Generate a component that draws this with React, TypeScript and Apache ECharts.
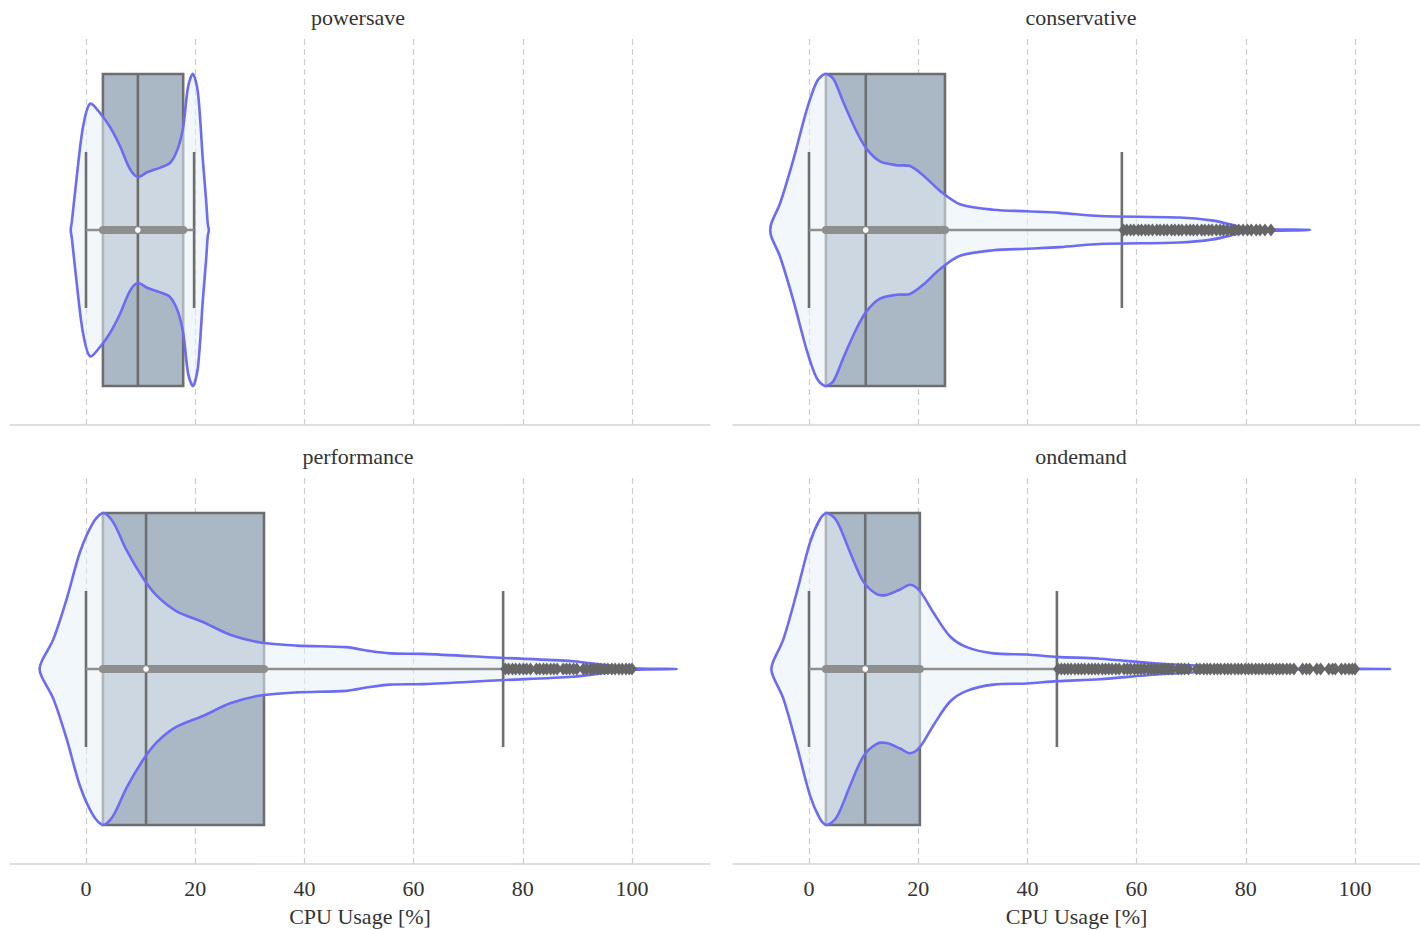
import React, { useEffect, useRef } from "react";
import * as echarts from "echarts";

const panelNames = ["powersave", "conservative", "performance", "ondemand"];
const xTicks = [0, 20, 40, 60, 80, 100];
const axisName = "CPU Usage [%]";

const boxQ1 = [3.1, 3.1, 3.1, 3.1];
const boxMedian = [9.5, 10.4, 11.0, 10.3];
const boxQ3 = [17.8, 24.9, 32.6, 20.3];
const whiskerLow = [0, 0, 0, 0];
const whiskerHigh = [19.8, 57.3, 76.4, 45.4];

// violin outlines: x positions and relative half-widths (1 = full half width)
const powersaveViolinX = [-2.8, -2.6, -1.7, -0.55, 0.73, 2.56, 4.4, 6.2, 8.06, 9.5, 11.2, 13.6, 15.4, 16.8, 17.8, 18.7, 19.6, 20.5, 21.4, 22.0, 22.3, 22.5];
const powersaveViolinW = [0, 0.05, 0.34, 0.66, 0.81, 0.75, 0.66, 0.54, 0.39, 0.34, 0.37, 0.4, 0.43, 0.52, 0.66, 0.92, 1.0, 0.88, 0.45, 0.19, 0.04, 0];

const conservativeViolinX = [-7.1, -6.83, -5.31, -2.88, -0.42, 1.41, 2.93, 4.45, 6.28, 8.73, 10.56, 13.0, 16.06, 18.5, 20.94, 24.0, 27.66, 33.76, 39.87, 45.97, 53.3, 67.9, 74.0, 77.1, 80.2, 84.4, 91.8];
const conservativeViolinW = [0, 0.05, 0.17, 0.45, 0.77, 0.95, 1.0, 0.97, 0.82, 0.63, 0.52, 0.44, 0.415, 0.41, 0.35, 0.25, 0.165, 0.13, 0.12, 0.11, 0.09, 0.08, 0.06, 0.036, 0.012, 0.005, 0];

const performanceViolinX = [-8.5, -8.11, -5.99, -3.53, -1.1, 1.34, 3.17, 5.0, 7.45, 10.5, 12.95, 16.6, 21.5, 26.4, 31.9, 38.6, 47.7, 52.0, 55.7, 61.8, 75.8, 89.2, 95.4, 100.2, 108.2];
const performanceViolinW = [0, 0.05, 0.19, 0.45, 0.75, 0.94, 1.0, 0.94, 0.76, 0.58, 0.47, 0.37, 0.3, 0.22, 0.17, 0.15, 0.14, 0.115, 0.1, 0.097, 0.072, 0.05, 0.023, 0.004, 0];

const ondemandViolinX = [-6.9, -6.54, -4.7, -2.25, 0.18, 2.0, 3.24, 5.07, 7.5, 9.95, 12.4, 14.2, 16.7, 18.5, 20.3, 22.8, 25.8, 28.9, 33.8, 39.9, 45.4, 53.3, 63.7, 75.8, 85.0, 106.4];
const ondemandViolinW = [0, 0.05, 0.19, 0.49, 0.81, 0.96, 1.0, 0.95, 0.75, 0.56, 0.48, 0.475, 0.51, 0.54, 0.5, 0.36, 0.21, 0.14, 0.1, 0.093, 0.078, 0.066, 0.035, 0.014, 0.003, 0];

const powersaveOutliers: number[] = [];
const conservativeOutliers = [57.6, 58.2, 58.9, 59.5, 60.3, 60.9, 61.6, 62.2, 62.9, 63.7, 64.3, 65.0, 65.6, 66.4, 67.0, 67.7, 68.3, 69.1, 69.8, 70.4, 71.1, 71.9, 72.5, 73.2, 73.8, 74.6, 75.3, 75.9, 76.6, 77.4, 78.0, 78.7, 79.5, 80.3, 81.0, 81.9, 82.6, 83.5, 84.6];
const performanceOutliers = [76.8, 77.4, 78.1, 78.7, 79.4, 80.1, 80.7, 81.4, 82.5, 83.1, 83.8, 84.4, 85.1, 85.7, 86.3, 87.4, 88.0, 88.6, 89.3, 89.9, 91.1, 91.7, 92.4, 93.0, 93.7, 94.3, 95.0, 95.6, 96.3, 96.9, 97.6, 98.2, 98.9, 99.5, 100.0];
const ondemandOutliers = [45.6, 46.2, 46.8, 47.4, 48.0, 48.7, 49.3, 49.9, 50.5, 51.2, 51.8, 52.4, 53.0, 53.7, 54.3, 54.9, 55.5, 56.2, 56.8, 57.7, 58.3, 58.9, 59.6, 60.2, 60.8, 61.4, 62.1, 62.7, 63.3, 63.9, 64.6, 65.2, 65.8, 66.5, 67.6, 68.2, 68.8, 69.5, 71.0, 71.6, 72.3, 72.9, 73.5, 74.2, 74.8, 75.4, 76.1, 76.7, 77.3, 78.0, 78.6, 79.2, 79.9, 80.5, 81.1, 81.8, 82.4, 83.0, 83.7, 84.3, 84.9, 85.6, 86.2, 86.8, 87.5, 88.1, 88.8, 90.4, 91.1, 91.7, 93.0, 93.7, 95.2, 95.9, 96.4, 97.5, 98.2, 98.9, 99.5, 100.0];

const violinXs = [powersaveViolinX, conservativeViolinX, performanceViolinX, ondemandViolinX];
const violinWs = [powersaveViolinW, conservativeViolinW, performanceViolinW, ondemandViolinW];
const outliers = [powersaveOutliers, conservativeOutliers, performanceOutliers, ondemandOutliers];

// axis extents (left panels show the whole range, right panels are cut by the page edge)
const xMin = -13.92;
const xMaxLeft = 114.29;
const xMaxRight = 111.9;

const BOX_FILL = "#aab8c6";
const EDGE = "#6e6e6e";
const VIOLIN_FILL = "rgba(232,240,248,0.55)";
const VIOLIN_LINE = "#6b6bf3";
const INNER = "#8e8e8e";
const OUTLIER = "#666666";
const FONT = "'Liberation Serif', serif";
const HALF = 0.4;

function buildOption() {
  const grids: any[] = [];
  const xAxes: any[] = [];
  const yAxes: any[] = [];
  const series: any[] = [];
  const titles: any[] = [];
  for (let i = 0; i < 4; i++) {
    const col = i % 2;
    const row = Math.floor(i / 2);
    const left = 10 + col * 723;
    const top = 35 + row * 439;
    const width = col === 0 ? 700 : 687;
    grids.push({ left, top, width, height: 390, containLabel: false });
    titles.push({
      text: panelNames[i],
      left: left + 343,
      top: top - 34,
      textAlign: "center",
      textStyle: { fontFamily: FONT, fontSize: 22, fontWeight: "normal", color: "#333" },
    });
    xAxes.push({
      type: "value",
      gridIndex: i,
      min: xMin,
      max: col === 0 ? xMaxLeft : xMaxRight,
      splitLine: { show: false },
      axisTick: { show: false },
      axisLine: { show: true, onZero: false, lineStyle: { color: "#d4d4d4", width: 1.5 } },
      axisLabel: {
        show: row === 1,
        customValues: xTicks,
        margin: 13,
        fontFamily: FONT,
        fontSize: 22,
        color: "#333",
      },
      name: row === 1 ? axisName : "",
      nameLocation: "middle",
      nameGap: 41,
      nameTextStyle: { fontFamily: FONT, fontSize: 22, color: "#333" },
    });
    yAxes.push({
      type: "value",
      gridIndex: i,
      min: -0.5,
      max: 0.5,
      show: false,
    });
    series.push({
      type: "line",
      xAxisIndex: i,
      yAxisIndex: i,
      data: [[0, 0]],
      symbol: "none",
      silent: true,
      z: 0,
      lineStyle: { opacity: 0 },
      markLine: {
        silent: true,
        z: 0,
        symbol: ["none", "none"],
        label: { show: false },
        lineStyle: { color: "#cccccc", width: 1.2, type: [6, 4] },
        data: xTicks.map((v) => ({ xAxis: v })),
      },
    });
    const idx = i;
    series.push({
      type: "custom",
      xAxisIndex: i,
      yAxisIndex: i,
      z: 2,
      data: [[0, 0]],
      renderItem: (params: any, api: any) => {
        const q1 = boxQ1[idx], q3 = boxQ3[idx], med = boxMedian[idx];
        const wl = whiskerLow[idx], wh = whiskerHigh[idx];
        const p = (x: number, y: number) => api.coord([x, y]);
        const a = p(q1, HALF), b = p(q3, -HALF);
        const children: any[] = [];
        let z = 1;
        children.push({
          type: "rect",
          z2: z++,
          shape: { x: a[0], y: a[1], width: b[0] - a[0], height: b[1] - a[1] },
          style: { fill: BOX_FILL, stroke: EDGE, lineWidth: 2.6 },
        });
        const xs = violinXs[idx], ws = violinWs[idx];
        const upper = xs.map((x, k) => p(x, ws[k] * HALF));
        const lower = xs.slice(1, -1).map((x, k) => p(x, -ws[k + 1] * HALF)).reverse();
        const pts = upper.concat(lower);
        children.push({ type: "polygon", z2: z++, shape: { points: pts, smooth: 0.3 }, style: { fill: VIOLIN_FILL } });
        // median line and caps
        const m1 = p(med, HALF), m2 = p(med, -HALF);
        children.push({ type: "line", z2: z++, shape: { x1: m1[0], y1: m1[1], x2: m2[0], y2: m2[1] }, style: { stroke: EDGE, lineWidth: 2.6 } });
        [wl, wh].forEach((w) => {
          const c1 = p(w, HALF / 2), c2 = p(w, -HALF / 2);
          children.push({ type: "line", z2: z++, shape: { x1: c1[0], y1: c1[1], x2: c2[0], y2: c2[1] }, style: { stroke: EDGE, lineWidth: 2.6 } });
        });
        children.push({ type: "polygon", z2: z++, shape: { points: pts, smooth: 0.3 }, style: { fill: "none", stroke: VIOLIN_LINE, lineWidth: 2.6, lineJoin: "round" } });
        // inner box
        const w1 = p(wl, 0), w2 = p(wh, 0);
        children.push({ type: "line", z2: z++, shape: { x1: w1[0], y1: w1[1], x2: w2[0], y2: w2[1] }, style: { stroke: INNER, lineWidth: 2.6 } });
        const i1 = p(q1, 0), i2 = p(q3, 0);
        children.push({ type: "line", z2: z++, shape: { x1: i1[0], y1: i1[1], x2: i2[0], y2: i2[1] }, style: { stroke: INNER, lineWidth: 8, lineCap: "round" } });
        const mc = p(med, 0);
        children.push({ type: "circle", z2: z++, shape: { cx: mc[0], cy: mc[1], r: 2.8 }, style: { fill: "#ffffff" } });
        return { type: "group", children };
      },
    });
    series.push({
      type: "scatter",
      xAxisIndex: i,
      yAxisIndex: i,
      z: 3,
      symbol: "diamond",
      symbolSize: [10, 13],
      itemStyle: { color: OUTLIER, opacity: 1 },
      data: outliers[i].map((v) => [v, 0]),
    });
  }
  return {
    animation: false,
    backgroundColor: "#ffffff",
    title: titles,
    grid: grids,
    xAxis: xAxes,
    yAxis: yAxes,
    series,
  };
}

export default function App() {
  const ref = useRef<HTMLDivElement>(null);
  useEffect(() => {
    document.body.style.margin = "0";
    if (!ref.current) return;
    const chart = echarts.init(ref.current, undefined, { renderer: "svg" });
    chart.setOption(buildOption() as any);
    return () => chart.dispose();
  }, []);
  return <div ref={ref} style={{ width: 1420, height: 930 }} />;
}
